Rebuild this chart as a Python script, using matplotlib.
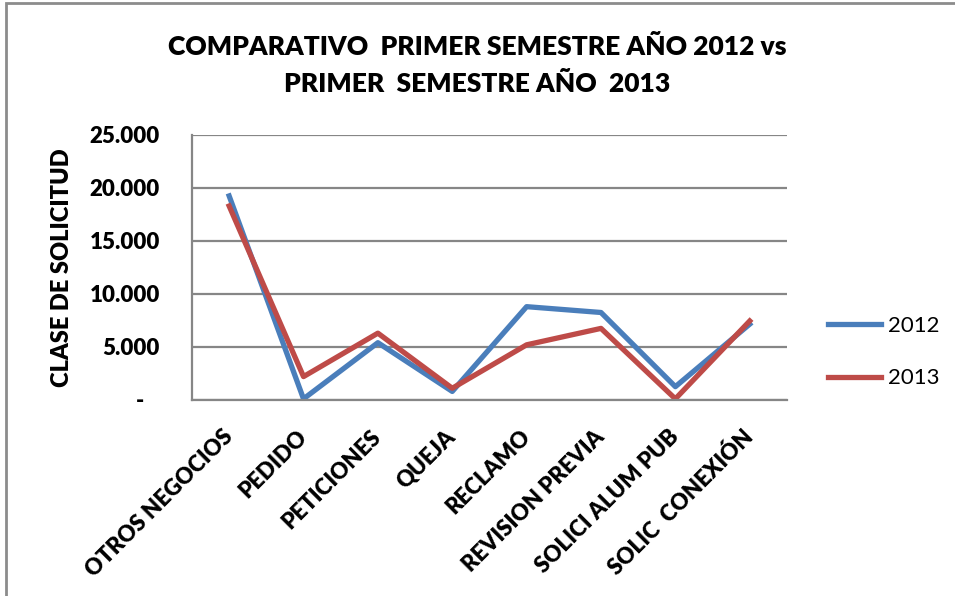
import matplotlib
matplotlib.use("Agg")
import matplotlib.pyplot as plt
from matplotlib.patches import Rectangle

# Datos
categorias = ["OTROS NEGOCIOS", "PEDIDO", "PETICIONES", "QUEJA", "RECLAMO",
              "REVISION PREVIA", "SOLICI ALUM PUB", "SOLIC  CONEXIÓN"]
valores_2012 = [19250, 100, 5400, 800, 8800, 8250, 1250, 7150]
valores_2013 = [18300, 2200, 6300, 1100, 5200, 6750, 100, 7450]
yticks = [0, 5000, 10000, 15000, 20000, 25000]
ytick_labels = ["-   ", "5.000", "10.000", "15.000", "20.000", "25.000"]

plt.rcParams['font.family'] = ['Lato', 'DejaVu Sans']
peso = 'heavy'

fig = plt.figure(figsize=(9.55, 5.96), dpi=100)
ax = fig.add_axes([0.201, 0.329, 0.623, 0.4445])

# marco exterior del gráfico
fig.patches.append(Rectangle((6 / 955, -0.1), 1.2, (596 - 3) / 596 + 0.1,
                             transform=fig.transFigure, fill=False,
                             edgecolor='#8c8c8c', linewidth=2))

x = list(range(len(categorias)))
ax.plot(x, valores_2012, color='#4A7EBB', linewidth=3.8, label='2012')
ax.plot(x, valores_2013, color='#BE4B48', linewidth=3.8, label='2013')

ax.set_xlim(-0.5, len(categorias) - 0.5)
ax.set_ylim(0, 25000)
ax.set_yticks(yticks)
ax.set_yticklabels(ytick_labels, fontsize=16, fontweight=peso)
ax.set_xticks(x)
ax.set_xticklabels(categorias, rotation=45, ha='right', va='center',
                   rotation_mode='anchor', fontsize=16, fontweight=peso)
ax.tick_params(axis='y', length=0, pad=23)
ax.tick_params(axis='x', length=0, pad=24)

ax.grid(axis='y', color='#868686', linewidth=1.6)
ax.set_axisbelow(True)
for s in ['top', 'right']:
    ax.spines[s].set_visible(False)
for s in ['left', 'bottom']:
    ax.spines[s].set_color('#868686')
    ax.spines[s].set_linewidth(1.6)

ax.set_ylabel('CLASE DE SOLICITUD', fontsize=17, fontweight=peso)
ax.yaxis.set_label_coords(-0.2, 0.5)

fig.text(0.5, 1 - 47 / 596, 'COMPARATIVO  PRIMER SEMESTRE AÑO 2012 vs',
         ha='center', va='center', fontsize=19, fontweight=peso)
fig.text(0.5, 1 - 84 / 596, 'PRIMER  SEMESTRE AÑO  2013',
         ha='center', va='center', fontsize=19, fontweight=peso)

ax.legend(loc='center left', bbox_to_anchor=(1.035, 0.18), frameon=False,
          fontsize=16, handlelength=2.4, handletextpad=0.3, labelspacing=1.45)

fig.savefig('out.png', dpi=100)
